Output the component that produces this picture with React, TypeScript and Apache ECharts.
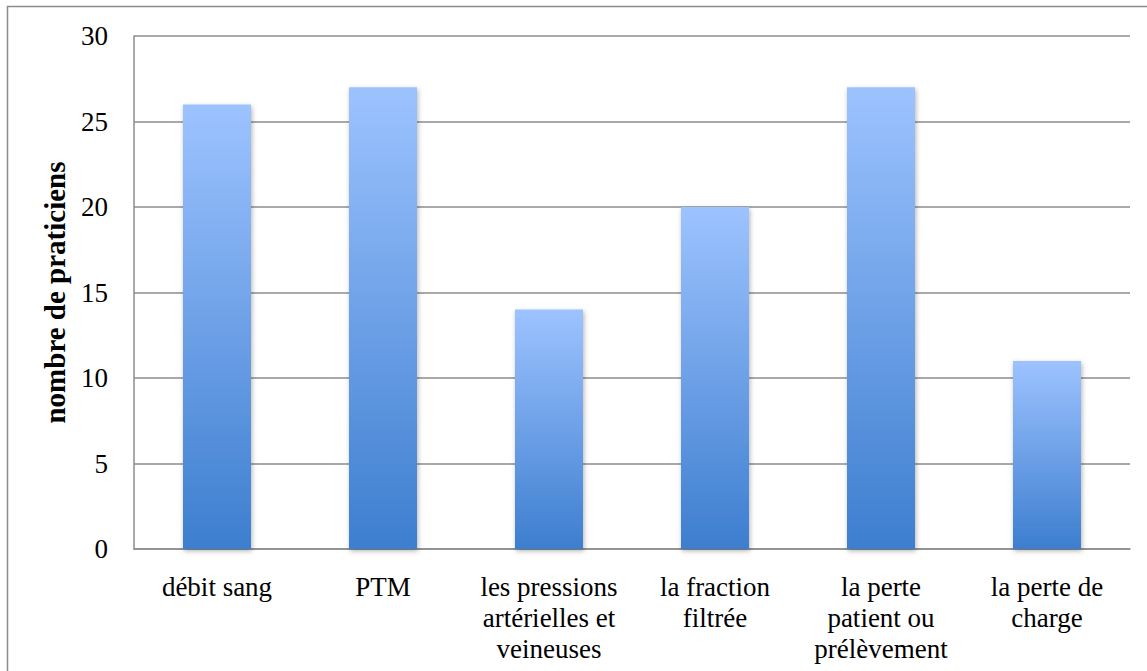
import React, { useEffect, useRef } from "react";
import * as echarts from "echarts";

const categories = [
  "débit sang",
  "PTM",
  "les pressions\nartérielles et\nveineuses",
  "la fraction\nfiltrée",
  "la perte\npatient ou\nprélèvement",
  "la perte de\ncharge",
];
const values = [26, 27, 14, 20, 27, 11];
const yAxisName = "nombre de praticiens";

export default function App() {
  const ref = useRef<HTMLDivElement>(null);
  useEffect(() => {
    if (!ref.current) return;
    const chart = echarts.init(ref.current, null, { renderer: "svg" });
    const font = "'Liberation Serif', 'Times New Roman', serif";
    chart.setOption({
      animation: false,
      backgroundColor: "#ffffff",
      grid: { left: 134, right: 17, top: 36, bottom: 122, containLabel: false },
      graphic: [
        {
          type: "rect",
          shape: { x: 7.5, y: 6.5, width: 1150, height: 700 },
          style: { fill: "none", stroke: "#8c8c8c", lineWidth: 1.5 },
          silent: true,
        },
      ],
      xAxis: {
        type: "category",
        data: categories,
        axisLine: { show: true, lineStyle: { color: "#8c8c8c", width: 1.5 } },
        axisTick: { show: false },
        axisLabel: {
          interval: 0,
          margin: 22,
          color: "#000",
          fontFamily: font,
          fontSize: 27,
          lineHeight: 31,
          align: "center",
        },
      },
      yAxis: {
        type: "value",
        min: 0,
        max: 30,
        interval: 5,
        name: yAxisName,
        nameLocation: "middle",
        nameGap: 65,
        nameRotate: 90,
        nameTextStyle: {
          color: "#000",
          fontFamily: font,
          fontSize: 29,
          fontWeight: "bold",
        },
        axisLine: { show: true, lineStyle: { color: "#8c8c8c", width: 1.5 } },
        axisTick: { show: false },
        splitLine: { show: true, lineStyle: { color: "#8c8c8c", width: 1.5 } },
        axisLabel: {
          margin: 26,
          color: "#000",
          fontFamily: font,
          fontSize: 27,
        },
      },
      series: [
        {
          type: "bar",
          data: values,
          barWidth: 68,
          itemStyle: {
            color: new echarts.graphic.LinearGradient(0, 0, 0, 1, [
              { offset: 0, color: "#9DC3FF" },
              { offset: 1, color: "#3D7ECF" },
            ]),
            shadowColor: "rgba(0,0,0,0.3)",
            shadowBlur: 5,
            shadowOffsetX: 1,
            shadowOffsetY: 2,
          },
        },
      ],
    });
    return () => chart.dispose();
  }, []);
  return (
    <div
      ref={ref}
      style={{ position: "fixed", left: 0, top: 0, width: 1147, height: 671 }}
    />
  );
}
